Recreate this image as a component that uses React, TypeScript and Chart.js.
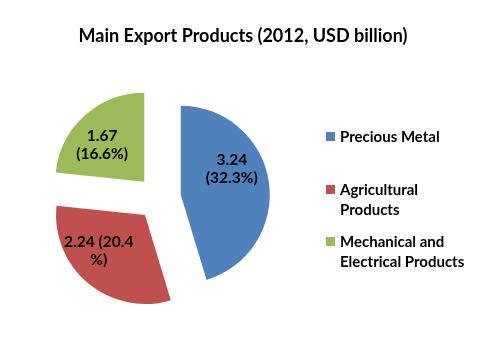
import React, { useEffect, useRef } from "react";
import { Chart, registerables } from "chart.js";

Chart.register(...registerables);

// ---- data ----
const chartTitle = "Main Export Products (2012, USD billion)";
const categories = ["Precious Metal", "Agricultural Products", "Mechanical and Electrical Products"];
const values = [3.24, 2.24, 1.67];
const shares = [32.3, 20.4, 16.6];
const legendLines = [["Precious Metal"], ["Agricultural", "Products"], ["Mechanical and", "Electrical Products"]];
const dataLabelLines = [["3.24", "(32.3%)"], ["2.24 (20.4", "%)"], ["1.67", "(16.6%)"]];
const colors = ["#4F81BD", "#C0504D", "#9BBB59"];

// ---- style ----
const FONT = "Lato, 'DejaVu Sans', sans-serif";
const W = 486;
const H = 355;
const RADIUS = 89;
const EXPLODE = 22;
const LABEL_ANGLE_FRAC = [0.39, 0.61, 0.42];
const LABEL_RADIUS_FRAC = [0.64, 0.66, 0.63];
const LABEL_LINE_H = 18;
const LEGEND_X = 326;
const LEGEND_BOX = 9;
const LEGEND_TEXT_X = 340;
const LEGEND_FIRST_BASELINE = [142, 195, 247];
const LEGEND_LINE_H = 19.5;

const explodePlugin = {
  id: "explodeSlices",
  afterUpdate(chart: any) {
    const meta = chart.getDatasetMeta(0);
    const ca = chart.chartArea;
    const cx = (ca.left + ca.right) / 2;
    const cy = (ca.top + ca.bottom) / 2;
    meta.data.forEach((arc: any) => {
      const mid = (arc.startAngle + arc.endAngle) / 2;
      arc.x = cx + Math.cos(mid) * EXPLODE;
      arc.y = cy + Math.sin(mid) * EXPLODE;
    });
  },
  afterDatasetsDraw(chart: any) {
    const ctx = chart.ctx;
    const meta = chart.getDatasetMeta(0);
    ctx.save();
    ctx.fillStyle = "#000";
    ctx.textAlign = "center";
    ctx.textBaseline = "middle";
    ctx.font = `bold 15.5px ${FONT}`;
    meta.data.forEach((arc: any, i: number) => {
      const a = arc.startAngle + LABEL_ANGLE_FRAC[i] * (arc.endAngle - arc.startAngle);
      const r = arc.outerRadius * LABEL_RADIUS_FRAC[i];
      const lx = arc.x + Math.cos(a) * r;
      const ly = arc.y + Math.sin(a) * r;
      const lines = dataLabelLines[i];
      const y0 = ly - ((lines.length - 1) * LABEL_LINE_H) / 2;
      lines.forEach((t, k) => ctx.fillText(t, lx, y0 + k * LABEL_LINE_H));
    });
    ctx.restore();
  },
  afterDraw(chart: any) {
    const ctx = chart.ctx;
    ctx.save();
    // title
    ctx.fillStyle = "#000";
    ctx.textAlign = "center";
    ctx.textBaseline = "alphabetic";
    ctx.font = `bold 18px ${FONT}`;
    ctx.fillText(chartTitle, W / 2, 42);
    // legend
    ctx.textAlign = "left";
    ctx.font = `bold 15px ${FONT}`;
    legendLines.forEach((lines, i) => {
      const b = LEGEND_FIRST_BASELINE[i];
      ctx.fillStyle = colors[i];
      ctx.fillRect(LEGEND_X, b - 10, LEGEND_BOX, LEGEND_BOX);
      ctx.fillStyle = "#000";
      lines.forEach((t, k) => ctx.fillText(t, LEGEND_TEXT_X, b + k * LEGEND_LINE_H));
    });
    ctx.restore();
  },
};

export default function App() {
  const ref = useRef<HTMLCanvasElement | null>(null);
  useEffect(() => {
    if (!ref.current) return;
    const chart = new Chart(ref.current, {
      type: "pie",
      data: {
        labels: categories,
        datasets: [
          {
            data: values,
            backgroundColor: colors,
            borderWidth: 0,
          },
        ],
      },
      options: {
        responsive: false,
        animation: false,
        radius: RADIUS,
        layout: { padding: { left: 20, right: 188, top: 80, bottom: 39 } },
        plugins: {
          legend: { display: false },
          title: { display: false },
          tooltip: { enabled: false },
        },
      } as any,
      plugins: [explodePlugin],
    });
    return () => chart.destroy();
  }, []);
  return (
    <div style={{ position: "absolute", left: 0, top: 0, width: W, height: H, background: "#fff" }}>
      <canvas ref={ref} width={W} height={H} style={{ width: W, height: H, display: "block" }} />
    </div>
  );
}
